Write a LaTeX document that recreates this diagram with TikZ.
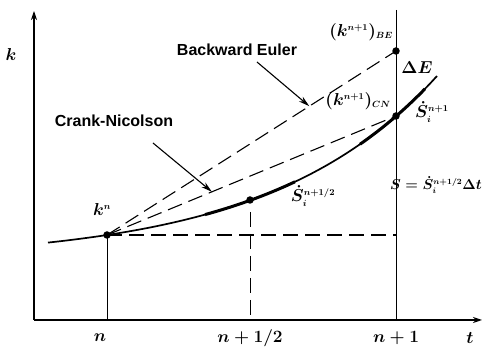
\documentclass[tikz,border=0pt]{standalone}
\usepackage{fontspec}
\setsansfont{Liberation Sans}
\usetikzlibrary{arrows.meta,calc}
\newcommand{\tsup}[1]{^{\scriptscriptstyle #1}}
\tikzset{
  axis/.style={line width=1.1pt,-{Stealth[length=9pt,width=6pt]}},
  guide/.style={line width=1pt},
  dash line/.style={line width=1.1pt,dash pattern=on 15pt off 7pt},
  curve/.style={line width=1.7pt},
  thickseg/.style={line width=3pt},
  dot/.style={circle,fill=black,inner sep=0pt,minimum size=7.5pt},
  lbl/.style={font=\sffamily\bfseries\fontsize{16}{19}\selectfont,inner sep=1pt},
  mlbl/.style={font=\boldmath\fontsize{18}{21}\selectfont,inner sep=1pt},
  pointer/.style={line width=1.1pt,-{Stealth[length=11pt,width=6pt]}}
}
\begin{document}
\begin{tikzpicture}[x=1pt,y=1pt]
\useasboundingbox (0,0) rectangle (483,348);
% axes
\coordinate (O) at (34,28);
\coordinate (ytop) at (34,337);
\coordinate (xend) at (482,28);
\draw[axis] (O) -- (ytop);
\draw[axis] (O) -- (xend);
% points
\node[dot] (kn) at (107,113) {};
\node[dot] (mid) at (250,148) {};
\node[dot] (cn) at (396,232) {};
\node[dot] (be) at (396,297) {};
% guide lines
\coordinate (n1top) at (396,338);
\coordinate (n1bot) at (396,28);
\coordinate (nbot) at (107,28);
\coordinate (hbot) at (250,28);
\coordinate (htop) at (250,136);
\coordinate (hend) at (396,113);
\draw[guide] (n1top) -- (n1bot);
\draw[guide] (kn.center) -- (nbot);
\draw[guide,dash pattern=on 15pt off 7pt] (htop) -- (hbot);
\draw[dash line] (kn.center) -- (hend);
\draw[dash line] (kn.center) -- (be.center);
\draw[dash line] (kn.center) -- (cn.center);
% curve
\draw[curve] plot[domain=48:437,samples=60] (\x,{87.5+25.5*exp(0.006*(\x-107))});
\draw[thickseg] plot[domain=205:295,samples=20] (\x,{87.5+25.5*exp(0.006*(\x-107))});
\draw[thickseg] plot[domain=360:425,samples=20] (\x,{87.5+25.5*exp(0.006*(\x-107))});
% method labels and pointers
\node[lbl] (bel) at (237,298) {Backward Euler};
\node[lbl] (cnl) at (114,227) {Crank-Nicolson};
\coordinate (beStart) at (257,286);
\coordinate (beTip) at ($(kn)!0.7!(be)$);
\coordinate (cnStart) at (153,205);
\coordinate (cnTip) at ($(kn)!0.363!(cn)$);
\draw[pointer] (beStart) -- (beTip);
\draw[pointer] (cnStart) -- (cnTip);
% math labels
\node[mlbl] (kl) at (11,293) {$k$};
\node[mlbl] (tl) at (470,10) {$t$};
\node[mlbl] (nl) at (100,10) {$n$};
\node[mlbl] (nhl) at (250,10) {$n+1/2$};
\node[mlbl] (n1l) at (396,10) {$n+1$};
\node[mlbl] (knl) at (102,138) {$k\tsup{n}$};
\node[mlbl] (bell) at (361,316) {$(k\tsup{n+1})_{\scriptscriptstyle BE}$};
\node[mlbl] (dEl) at (417,280) {$\Delta E$};
\node[mlbl] (cnll) at (358,247) {$(k\tsup{n+1})_{\scriptscriptstyle CN}$};
\node[mlbl] (s1l) at (432,236) {$\dot{S}_{\scriptscriptstyle i}\tsup{n+1}$};
\node[mlbl,anchor=east,inner sep=0pt,font=\boldmath\fontsize{15.5}{18}\selectfont] (Sl) at (482,163) {$S\mathrel{=}\dot{S}_{\scriptscriptstyle i}\tsup{n+1/2}\Delta t$};
\node[mlbl] (shl) at (313,152) {$\dot{S}_{\scriptscriptstyle i}\tsup{n+1/2}$};
\end{tikzpicture}
\end{document}
